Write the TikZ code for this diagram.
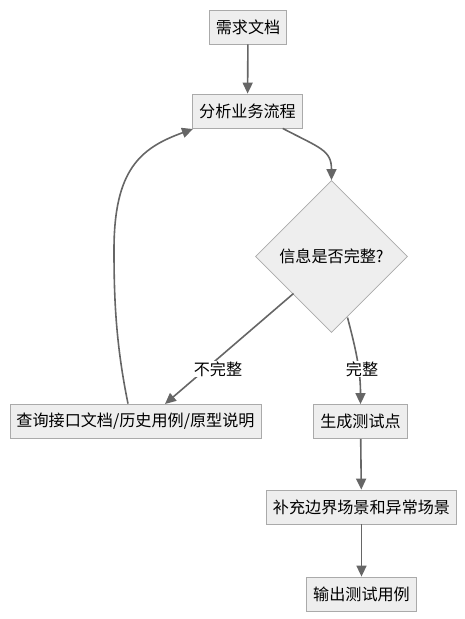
\documentclass[tikz,border=0pt]{standalone}
\usepackage{fontspec}
\setmainfont{Noto Sans CJK SC}
\usetikzlibrary{arrows.meta,shapes.geometric}
\definecolor{boxfill}{HTML}{EEEEEE}
\definecolor{boxline}{HTML}{AAAAAA}
\definecolor{edgecol}{HTML}{666666}
\begin{document}
\begin{tikzpicture}[x=1pt,y=-1pt,
  every node/.style={font=\fontsize{16.1}{19}\selectfont},
  procbox/.style={draw=boxline,fill=boxfill,line width=0.8pt,minimum height=34pt,inner xsep=6.5pt,inner ysep=0pt},
  decision/.style={draw=boxline,fill=boxfill,line width=0.8pt,diamond,minimum width=152pt,minimum height=152pt,inner sep=0pt},
  flow/.style={draw=edgecol,line width=1.6pt,-{Triangle[length=11pt,width=10pt]}},
  elabel/.style={fill=white,inner sep=1pt}]
\useasboundingbox (0,0) rectangle (465,619);
\node[procbox] (req) at (248,27) {需求文档};
\node[procbox] (ana) at (247.5,111) {分析业务流程};
\node[decision] (dec) at (331.5,256.5) {信息是否完整?};
\node[procbox] (qry) at (135.5,421) {查询接口文档/历史用例/原型说明};
\node[procbox] (gen) at (360.5,421.5) {生成测试点};
\node[procbox] (sup) at (361.5,507) {补充边界场景和异常场景};
\node[procbox] (out) at (361.5,594) {输出测试用例};

\draw[flow] (req) -- (ana);
\draw[flow] (ana.south east) ++(-20,0) coordinate (a1) .. controls (320,148) and (331.5,150) .. (dec.north);
\draw[flow] (dec) ++(-38,37) coordinate (d1) -- (165,404) coordinate (d2);
\node[elabel] (lno) at (218,369) {不完整};
\draw[flow] (dec) ++(16,61) coordinate (d3) .. controls (356,350) and (360.5,370) .. (gen.north);
\node[elabel] (lyes) at (362,369) {完整};
\draw[flow] (qry.north) ++(-7.5,0) coordinate (q1) .. controls (116,345) and (114,300) .. (114,250) .. controls (114,170) and (140,148) .. (193,129);
\draw[flow] (gen) -- (sup);
\draw[flow] (sup) -- (out);
\end{tikzpicture}
\end{document}
